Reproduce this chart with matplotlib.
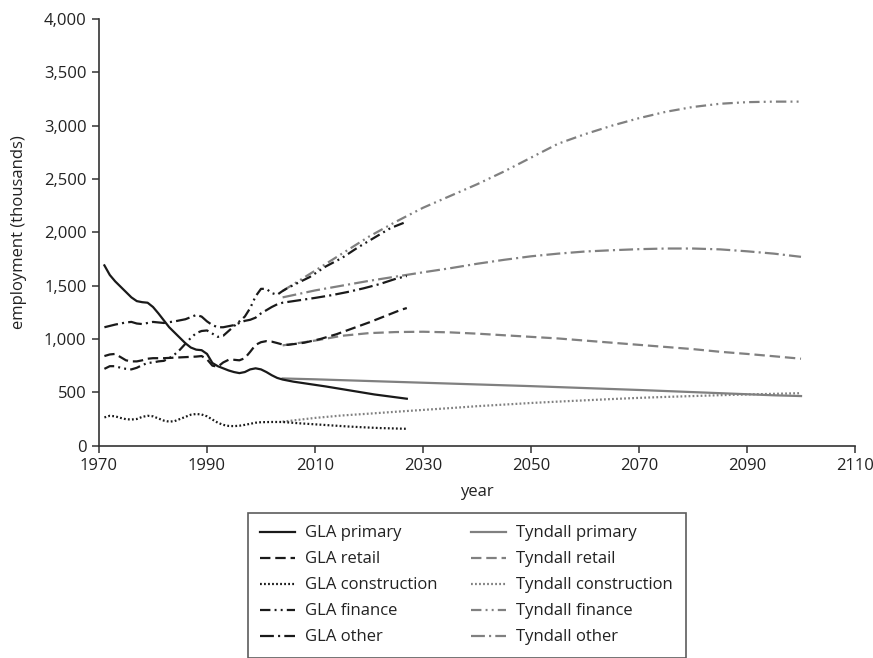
import matplotlib
matplotlib.use("Agg")
import matplotlib.pyplot as plt
from matplotlib.ticker import FuncFormatter, MultipleLocator

plt.rcParams['font.family'] = ['Open Sans', 'DejaVu Sans']
plt.rcParams['lines.scale_dashes'] = False

# GLA historic / projected employment (thousands)
gla_primary_years = [1971, 1972, 1973, 1974, 1975, 1976, 1977, 1978, 1979, 1980, 1981, 1982, 1983,
                     1984, 1985, 1986, 1987, 1988, 1989, 1990, 1991, 1992, 1993, 1994, 1995, 1996,
                     1997, 1998, 1999, 2000, 2001, 2002, 2003, 2004, 2006, 2008, 2010, 2012, 2015,
                     2018, 2021, 2024, 2027]
gla_primary = [1690, 1600, 1540, 1490, 1440, 1390, 1355, 1345, 1340, 1300, 1240, 1175, 1110,
               1060, 1010, 960, 920, 900, 895, 860, 775, 745, 725, 705, 690, 680,
               690, 715, 725, 715, 690, 660, 635, 620, 600, 585, 570, 555, 530,
               505, 480, 460, 440]

gla_retail_years = [1971, 1972, 1973, 1974, 1975, 1976, 1977, 1978, 1979, 1980, 1982, 1984, 1986,
                    1988, 1989, 1990, 1991, 1992, 1993, 1994, 1995, 1996, 1997, 1998, 1999, 2000,
                    2001, 2002, 2003, 2004, 2005, 2008, 2011, 2014, 2017, 2020, 2023, 2026, 2027]
gla_retail = [840, 855, 860, 830, 800, 790, 790, 800, 815, 820, 820, 825, 830,
              835, 840, 810, 750, 740, 780, 805, 805, 800, 820, 880, 945, 970,
              980, 975, 962, 948, 945, 965, 1000, 1045, 1100, 1155, 1215, 1275, 1290]

gla_constr_years = [1971, 1972, 1973, 1974, 1975, 1976, 1977, 1978, 1979, 1980, 1981, 1982, 1983,
                    1984, 1985, 1986, 1987, 1988, 1989, 1990, 1991, 1992, 1993, 1994, 1995, 1996,
                    1997, 1998, 1999, 2000, 2002, 2004, 2007, 2010, 2013, 2016, 2019, 2022, 2027]
gla_constr = [265, 280, 275, 260, 248, 245, 250, 270, 280, 275, 255, 235, 225,
              230, 250, 270, 290, 297, 292, 275, 245, 215, 195, 185, 183, 187,
              195, 205, 215, 220, 222, 222, 210, 200, 190, 180, 172, 165, 158]

gla_finance_years = [1971, 1972, 1973, 1974, 1975, 1976, 1977, 1978, 1979, 1980, 1981, 1982, 1983,
                     1984, 1985, 1986, 1987, 1988, 1989, 1990, 1991, 1992, 1993, 1994, 1995, 1996,
                     1997, 1998, 1999, 2000, 2001, 2002, 2003, 2004, 2005, 2007, 2009, 2012, 2015,
                     2018, 2021, 2024, 2027]
gla_finance = [720, 745, 745, 730, 720, 715, 730, 755, 775, 780, 790, 795, 820,
               855, 900, 955, 1010, 1055, 1075, 1080, 1050, 1020, 1030, 1075, 1120, 1165,
               1210, 1290, 1400, 1470, 1470, 1430, 1415, 1450, 1480, 1530, 1580, 1680, 1760,
               1860, 1950, 2040, 2100]

gla_other_years = [1971, 1973, 1975, 1976, 1977, 1978, 1980, 1982, 1984, 1986, 1987, 1988, 1989,
                   1990, 1991, 1992, 1993, 1994, 1995, 1996, 1997, 1998, 1999, 2000, 2001, 2002,
                   2003, 2004, 2006, 2008, 2010, 2013, 2016, 2019, 2022, 2025, 2027]
gla_other = [1110, 1135, 1155, 1160, 1145, 1140, 1160, 1150, 1165, 1185, 1205, 1225, 1210,
             1165, 1130, 1110, 1110, 1120, 1130, 1150, 1170, 1180, 1200, 1240, 1270, 1300,
             1325, 1340, 1355, 1370, 1385, 1410, 1440, 1475, 1515, 1565, 1590]

# Tyndall scenario projections (thousands)
tyn_years = [2004, 2010, 2015, 2020, 2025, 2030, 2035, 2040, 2045, 2050, 2055, 2060, 2065,
             2070, 2075, 2080, 2085, 2090, 2095, 2100]
tyn_primary = [630, 622, 614, 606, 598, 590, 582, 574, 566, 558, 549, 540, 531,
               522, 512, 502, 492, 482, 472, 465]
tyn_retail = [940, 985, 1030, 1055, 1065, 1068, 1062, 1050, 1035, 1020, 1005, 985, 965,
              945, 925, 905, 880, 860, 838, 815]
tyn_constr = [225, 260, 283, 300, 318, 335, 352, 370, 385, 400, 413, 425, 437,
              448, 457, 465, 473, 480, 486, 492]
tyn_finance = [1450, 1640, 1800, 1960, 2100, 2230, 2340, 2450, 2570, 2700, 2830, 2920, 3000,
               3070, 3130, 3175, 3205, 3220, 3225, 3225]
tyn_other = [1390, 1455, 1500, 1545, 1585, 1625, 1663, 1705, 1742, 1775, 1800, 1820, 1832,
             1842, 1848, 1848, 1840, 1822, 1800, 1770]

x_ticks = [1970, 1990, 2010, 2030, 2050, 2070, 2090, 2110]

BLACK = '#1a1a1a'
GREY = '#808080'
LW = 1.6

styles = {
    'primary': '-',
    'retail': (0, (7.5, 3.5)),
    'construction': (0, (1.3, 1.6)),
    'finance': (0, (7.5, 3.0, 1.4, 3.0, 1.4, 3.0)),
    'other': (0, (10.0, 3.0, 1.5, 3.0)),
}

fig = plt.figure(figsize=(8.73, 6.58), dpi=100)
ax = fig.add_axes([0.1134, 0.3227, 0.8660, 0.6485])

gla = [
    ('GLA primary', gla_primary_years, gla_primary, 'primary'),
    ('GLA retail', gla_retail_years, gla_retail, 'retail'),
    ('GLA construction', gla_constr_years, gla_constr, 'construction'),
    ('GLA finance', gla_finance_years, gla_finance, 'finance'),
    ('GLA other', gla_other_years, gla_other, 'other'),
]
tyn = [
    ('Tyndall primary', tyn_primary, 'primary'),
    ('Tyndall retail', tyn_retail, 'retail'),
    ('Tyndall construction', tyn_constr, 'construction'),
    ('Tyndall finance', tyn_finance, 'finance'),
    ('Tyndall other', tyn_other, 'other'),
]

handles = []
for label, yrs, vals, key in gla:
    h, = ax.plot(yrs, vals, color=BLACK, lw=LW, linestyle=styles[key], label=label, zorder=3)
    handles.append(h)
for label, vals, key in tyn:
    h, = ax.plot(tyn_years, vals, color=GREY, lw=LW, linestyle=styles[key], label=label, zorder=2)
    handles.append(h)

ax.set_xlim(1970, 2110)
ax.set_ylim(0, 4000)
ax.set_xticks(x_ticks)
ax.yaxis.set_major_locator(MultipleLocator(500))
ax.yaxis.set_major_formatter(FuncFormatter(lambda v, p: f'{int(v):,}'))

for s in ('top', 'right'):
    ax.spines[s].set_visible(False)
for s in ('left', 'bottom'):
    ax.spines[s].set_color('#333333')
    ax.spines[s].set_linewidth(1.2)
ax.tick_params(direction='out', length=5, width=1.1, color='#333333',
               labelsize=12, labelcolor='#222222', pad=4)

ax.set_xlabel('year', fontsize=12, color='#222222', labelpad=7)
ax.set_ylabel('employment (thousands)', fontsize=12, color='#222222', labelpad=12)

leg = fig.legend(handles=handles, ncol=2, loc='upper left',
                 bbox_to_anchor=(0.284, 0.2204), fontsize=12,
                 frameon=True, fancybox=False, edgecolor='#333333',
                 handlelength=2.1, handletextpad=0.6, columnspacing=2.0,
                 labelspacing=0.6, borderpad=0.75, borderaxespad=0)
leg.get_frame().set_linewidth(1.2)
for t in leg.get_texts():
    t.set_color('#222222')

fig.savefig('out.png', dpi=100)
